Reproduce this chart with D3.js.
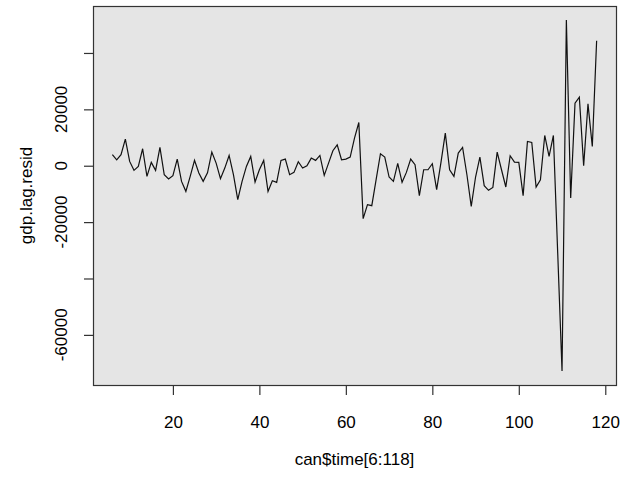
<!DOCTYPE html>
<meta charset="utf-8"/>
<style>
  body { margin: 0; background: #fff; }
  text { font-family: "Liberation Sans", Arial, sans-serif; }
</style>
<svg width="624" height="477"></svg>
<script src="https://d3js.org/d3.v7.min.js"></script>
<script>

// data: can$time[6:118] vs gdp.lag.resid
var times = [6,7,8,9,10,11,12,13,14,15,16,17,18,19,20,21,22,23,24,25,26,27,28,29,30,
  31,32,33,34,35,36,37,38,39,40,41,42,43,44,45,46,47,48,49,50,51,52,53,54,55,56,57,58,59,60,
  61,62,63,64,65,66,67,68,69,70,71,72,73,74,75,76,77,78,79,80,81,82,83,84,85,86,87,88,89,90,
  91,92,93,94,95,96,97,98,99,100,101,102,103,104,105,106,107,108,109,110,111,112,113,114,115,
  116,117,118]

var resid = [3900,2100,3900,9450,1530,-1650,-240,6020,-3780,1180,-1650,6490,-3190,-4720,-3540,
  2360,-5550,-9090,-3780,1890,-2600,-5550,-2500,4840,940,-4600,-830,3650,-3190,-12040,
  -5550,-240,3300,-5780,-1420,1890,-9090,-5310,-5900,1890,2360,-3190,-2360,1420,-830,
  0,2710,1890,3650,-3420,940,5310,7430,2120,2360,3070,9790,15340,-18760,-13800,
  -14160,-4960,4250,3070,-4010,-5550,800,-5900,-2360,2360,350,-10620,-1420,-1420,710,
  -8500,1180,11560,-1420,-3780,4480,6490,-3190,-14400,-4010,3070,-7080,-8730,-7700,4840,
  -1420,-7550,3540,1300,1180,-10620,8610,8260,-7550,-4960,10730,3300,10730,-31000,-72800,
  51680,-11440,22190,24310,0,21950,6840,44360]

var xTicks = [20,40,60,80,100,120]
var xTickLabels = ["20","40","60","80","100","120"]
var yTicks = [-60000,-40000,-20000,0,20000,40000]
// R drops the labels that would overlap
var yTickLabels = ["-60000","","-20000","0","20000",""]

var xTitle = "can$time[6:118]"
var yTitle = "gdp.lag.resid"

var pts = times.map(function(t, i) { return { x: t, y: resid[i] } })

var svg = d3.select("svg")
var fs = "17px"

// plot box (window.top is read-only, so own names)
var boxL = 93, boxR = 616, boxT = 6, boxB = 385

// R style 4% padding
var xe = d3.extent(times), ye = d3.extent(resid)
var xp = (xe[1]-xe[0])*0.04, yp = (ye[1]-ye[0])*0.04

var x = d3.scaleLinear().domain([xe[0]-xp, xe[1]+xp]).range([boxL, boxR])
var y = d3.scaleLinear().domain([ye[0]-yp, ye[1]+yp]).range([boxB, boxT])

svg.append("rect")
  .attr("x", boxL).attr("y", boxT)
  .attr("width", boxR-boxL).attr("height", boxB-boxT)
  .attr("fill", "#e5e5e5")

var line = d3.line()
  .x(function(d) { return x(d.x) })
  .y(function(d) { return y(d.y) })

svg.append("path")
  .datum(pts)
  .attr("d", line)
  .attr("fill", "none")
  .attr("stroke", "#111")
  .attr("stroke-width", 1.2)
  .attr("stroke-linejoin", "miter")

svg.append("rect")
  .attr("x", boxL+0.5).attr("y", boxT+0.5)
  .attr("width", boxR-boxL).attr("height", boxB-boxT)
  .attr("fill", "none")
  .attr("stroke", "#333")
  .attr("stroke-width", 1.2)

// x axis
var xAxis = d3.axisBottom(x)
  .tickValues(xTicks)
  .tickSize(9.5)
  .tickPadding(21)
  .tickFormat(function(d, i) { return xTickLabels[i] })

var gx = svg.append("g")
  .attr("transform", "translate(0," + (boxB+0.5) + ")")
  .call(xAxis)
gx.select(".domain").remove()
gx.selectAll("line").attr("stroke", "#333").attr("stroke-width", 1.2)
gx.selectAll("text")
  .attr("font-size", fs)
  .attr("fill", "#000")
  .attr("font-family", "'Liberation Sans', Arial, sans-serif")

// y axis
var yAxis = d3.axisLeft(y)
  .tickValues(yTicks)
  .tickSize(9.5)
  .tickFormat(function(d, i) { return yTickLabels[i] })

var gy = svg.append("g")
  .attr("transform", "translate(" + (boxL+0.5) + ",0)")
  .call(yAxis)
gy.select(".domain").remove()
gy.selectAll("line").attr("stroke", "#333").attr("stroke-width", 1.2)
gy.selectAll("text").remove()

gy.selectAll("text.lab")
  .data(yTicks)
  .enter().append("text")
    .attr("class", "lab")
    .attr("transform", function(d) { return "translate(" + (-32) + "," + y(d) + ") rotate(-90)" })
    .attr("text-anchor", "middle")
    .attr("dominant-baseline", "central")
    .attr("font-size", fs)
    .attr("fill", "#000")
    .text(function(d, i) { return yTickLabels[i] })

// titles
svg.append("text")
  .attr("x", (boxL+boxR)/2)
  .attr("y", 465)
  .attr("text-anchor", "middle")
  .attr("font-size", fs)
  .text(xTitle)

svg.append("text")
  .attr("transform", "translate(26," + ((boxT+boxB)/2) + ") rotate(-90)")
  .attr("text-anchor", "middle")
  .attr("dominant-baseline", "central")
  .attr("font-size", fs)
  .text(yTitle)

</script>
